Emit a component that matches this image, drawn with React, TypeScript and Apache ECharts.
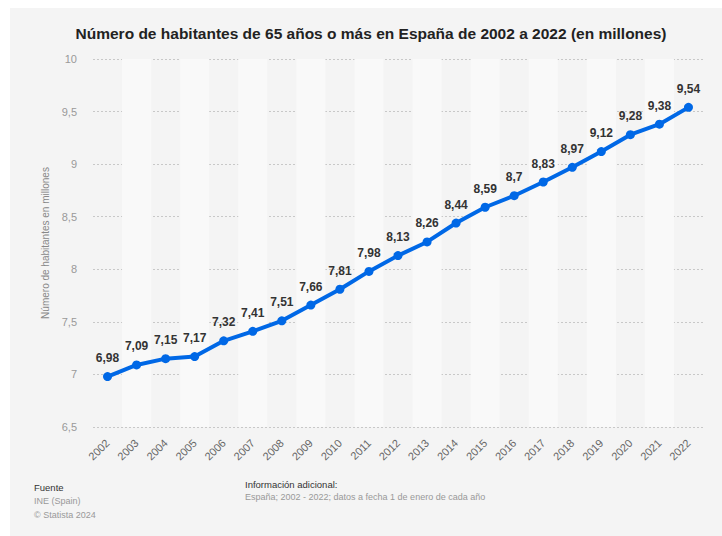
import React, { useEffect, useRef } from "react";
import * as echarts from "echarts";

const years = ["2002","2003","2004","2005","2006","2007","2008","2009","2010","2011","2012","2013","2014","2015","2016","2017","2018","2019","2020","2021","2022"];
const values = [6.98, 7.09, 7.15, 7.17, 7.32, 7.41, 7.51, 7.66, 7.81, 7.98, 8.13, 8.26, 8.44, 8.59, 8.7, 8.83, 8.97, 9.12, 9.28, 9.38, 9.54];
const yMin = 6.5;
const yMax = 10;
const yStep = 0.5;

const FONT = "'Liberation Sans', Arial, Helvetica, sans-serif";
const fmt = (v: number) => String(v).replace(".", ",");

export default function App() {
  const ref = useRef<HTMLDivElement>(null);
  useEffect(() => {
    if (!ref.current) return;
    const chart = echarts.init(ref.current, undefined, { renderer: "svg" });
    chart.setOption({
      animation: false,
      backgroundColor: "#f4f4f4",
      textStyle: { fontFamily: FONT },
      grid: { left: 83, right: 19, top: 51, bottom: 109 },
      graphic: [
        { type: "text", x: 361, y: 25, style: { text: "Número de habitantes de 65 años o más en España de 2002 a 2022 (en millones)", fontFamily: FONT, fontSize: 15.5, fontWeight: "bold", fill: "#222", textAlign: "center", textVerticalAlign: "middle" } },
        { type: "text", x: 24, y: 479, style: { text: "Fuente", fontFamily: FONT, fontSize: 9.5, fill: "#333", textVerticalAlign: "middle" } },
        { type: "text", x: 24, y: 493, style: { text: "INE (Spain)", fontFamily: FONT, fontSize: 9, fill: "#999", textVerticalAlign: "middle" } },
        { type: "text", x: 24, y: 507, style: { text: "© Statista 2024", fontFamily: FONT, fontSize: 9, fill: "#999", textVerticalAlign: "middle" } },
        { type: "text", x: 235, y: 476, style: { text: "Información adicional:", fontFamily: FONT, fontSize: 9.5, fill: "#333", textVerticalAlign: "middle" } },
        { type: "text", x: 235, y: 489, style: { text: "España; 2002 - 2022; datos a fecha 1 de enero de cada año", fontFamily: FONT, fontSize: 9, fill: "#999", textVerticalAlign: "middle" } },
      ],
      xAxis: {
        type: "category",
        data: years,
        boundaryGap: true,
        axisLine: { show: false },
        axisTick: { show: false },
        axisLabel: { rotate: 45, color: "#666", fontSize: 11, margin: 14, fontFamily: FONT },
        splitArea: { show: true, areaStyle: { color: ["rgba(0,0,0,0)", "#f9f9f9"] } },
        splitLine: { show: false },
      },
      yAxis: {
        type: "value",
        min: yMin,
        max: yMax,
        interval: yStep,
        name: "Número de habitantes en millones",
        nameLocation: "middle",
        nameGap: 31,
        nameTextStyle: { color: "#888", fontSize: 10, fontFamily: FONT },
        axisLine: { show: false },
        axisTick: { show: false },
        axisLabel: { color: "#999", fontSize: 11, margin: 16, formatter: (v: number) => fmt(v), fontFamily: FONT },
        splitLine: { show: true, lineStyle: { color: "#c8c8c8", type: [2, 2], width: 1 } },
      },
      series: [
        {
          type: "line",
          data: values,
          color: "#0068e6",
          lineStyle: { width: 4, color: "#0068e6" },
          symbol: "circle",
          symbolSize: 9,
          itemStyle: { color: "#0068e6" },
          label: {
            show: true,
            position: "top",
            distance: 8,
            color: "#333",
            fontWeight: "bold",
            fontSize: 12,
            fontFamily: FONT,
            formatter: (p: any) => fmt(p.value),
          },
        },
      ],
    });
    return () => chart.dispose();
  }, []);
  return (
    <div style={{ position: "absolute", left: 10, top: 8, width: 712, height: 528 }}>
      <div ref={ref} style={{ width: 712, height: 528 }} />
    </div>
  );
}
